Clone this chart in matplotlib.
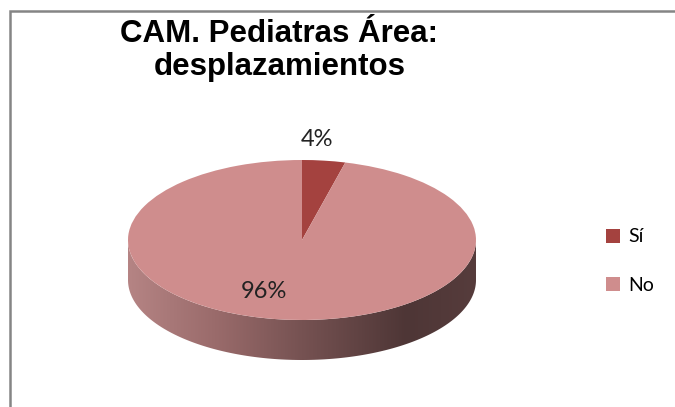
import numpy as np
import matplotlib
matplotlib.use("Agg")
import matplotlib.pyplot as plt
from matplotlib.patches import Polygon, Rectangle
from matplotlib.colors import LinearSegmentedColormap

# data
labels = ["Sí", "No"]
values = [4, 96]
pct_labels = ["4%", "96%"]
colors = ["#A4423F", "#CF8D8D"]
title_lines = ["CAM. Pediatras Área:", "desplazamientos"]

W, H = 675, 407
fig = plt.figure(figsize=(W / 100, H / 100), dpi=100)
ax = fig.add_axes([0, 0, 1, 1])

# pie geometry in pixels
cx, cy = 302, 240
rx, ry = 174, 80
depth = 40
k = rx / ry  # y squash factor


def to_data(px, py):
    return px, -(py - cy) * k


wedges, _ = ax.pie(values, colors=colors, startangle=90, counterclock=False,
                   center=(cx, 0), radius=rx,
                   wedgeprops=dict(linewidth=0), frame=False)
for w in wedges:
    w.set_zorder(3)

# side of the 3D pie
t = np.linspace(np.pi, 2 * np.pi, 200)
ax_x = cx + rx * np.cos(t)
ax_y = rx * np.sin(t)
d = depth * k
pts = np.concatenate([np.column_stack([ax_x, ax_y]),
                      np.column_stack([ax_x[::-1], ax_y[::-1] - d])])
side = Polygon(pts, closed=True, facecolor="none", edgecolor="none")
ax.add_patch(side)
cmap = LinearSegmentedColormap.from_list("side", [
    (0.0, "#B58484"), (0.25, "#9A6B6B"), (0.5, "#765252"),
    (0.8, "#4E3636"), (1.0, "#563C3C")])
grad = np.linspace(0, 1, 256).reshape(1, -1)
im = ax.imshow(grad, cmap=cmap, aspect="auto",
               extent=(cx - rx, cx + rx, -rx - d, 0), zorder=2)
im.set_clip_path(side)

ax.set_aspect("auto")
ax.set_xlim(0, W)
ax.set_ylim(-(H - cy) * k, cy * k)
ax.axis("off")

# percentage labels
lab_pos = [(317, 139), (264, 292)]
for (px, py), s in zip(lab_pos, pct_labels):
    x, y = to_data(px, py)
    ax.text(x, y, s, ha="center", va="center", fontsize=17,
            family="Lato", color="#222222", zorder=5)

# title
fig.text(279 / W, 1 - 42 / H, title_lines[0], ha="center", va="baseline",
         fontsize=22.5, fontweight="bold", family="Liberation Sans")
fig.text(280 / W, 1 - 75 / H, title_lines[1], ha="center", va="baseline",
         fontsize=22.5, fontweight="bold", family="Liberation Sans")

# legend
leg = fig.legend(wedges, labels, loc="center left",
                 bbox_to_anchor=(588 / W, 1 - 261 / H), frameon=False,
                 prop=dict(family="Lato", size=14), handlelength=0.75,
                 handleheight=0.75, handletextpad=0.4, labelspacing=1.6)

# chart border
fig.patches.append(Rectangle((9.5 / W, -0.05), 1.1, 1 - 10.5 / H + 0.05,
                             transform=fig.transFigure, fill=False,
                             edgecolor="#858585", linewidth=1.8))

fig.savefig("out.png", dpi=100)
